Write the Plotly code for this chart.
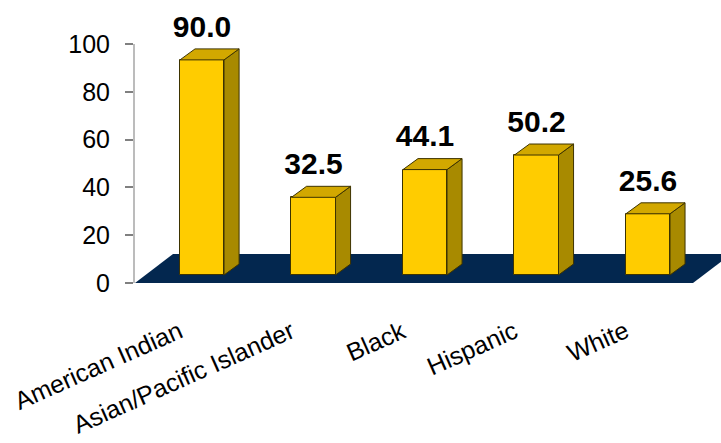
import plotly.graph_objects as go

categories = ["American Indian", "Asian/Pacific Islander", "Black", "Hispanic", "White"]
values = [90.0, 32.5, 44.1, 50.2, 25.6]
y_ticks = [0, 20, 40, 60, 80, 100]

# layout / styling constants
FRONT = "#FFCC00"
TOP = "#D2A800"
SIDE = "#A88A00"
EDGE = "#3d3300"
FLOOR = "#03274F"
FONT = "Liberation Sans, Arial, sans-serif"

pos = list(range(len(categories)))
bw = 0.395      # bar front width (x units)
dx = 0.135      # depth offset in x
dy = 4.6        # depth offset in y
base = 3.35     # bar base raised onto floor

fig = go.Figure()

# side faces and top faces computed from values
side_x, side_y, top_x, top_y = [], [], [], []
for p, v in zip(pos, values):
    r = p + bw / 2
    l = p - bw / 2
    t = base + v
    side_x += [r, r + dx, r + dx, r, r, None]
    side_y += [base, base + dy, t + dy, t, base, None]
    top_x += [l, l + dx, r + dx, r, l, None]
    top_y += [t, t + dy, t + dy, t, t, None]

fig.add_trace(go.Scatter(x=side_x, y=side_y, fill="toself", fillcolor=SIDE, mode="lines",
                         line=dict(color=EDGE, width=1), hoverinfo="skip", showlegend=False))
fig.add_trace(go.Scatter(x=top_x, y=top_y, fill="toself", fillcolor=TOP, mode="lines",
                         line=dict(color=EDGE, width=1), hoverinfo="skip", showlegend=False))

fig.add_trace(go.Bar(x=pos, y=values, base=base, width=bw,
                     marker=dict(color=FRONT, line=dict(color=EDGE, width=1)),
                     showlegend=False))

# value labels
fig.add_trace(go.Scatter(x=pos, y=[base + v + dy + 2 for v in values],
                         text=[f"{v:.1f}" for v in values], mode="text",
                         textposition="top center",
                         textfont=dict(family=FONT, size=30, color="black", weight="bold"),
                         cliponaxis=False, hoverinfo="skip", showlegend=False))

# floor
x0 = -0.601
fig.add_shape(type="path",
              path=f"M {x0},0 L 4.404,0 L 4.745,12.1 L {x0 + 0.341},12.1 Z",
              xref="x", yref="y", fillcolor=FLOOR, line=dict(width=0), layer="below")

# category labels (rotated, perspective-style)
for p, c in zip(pos, categories):
    fig.add_annotation(text=c, x=p - 0.11, y=-0.125,
                       xref="x", yref="paper", xanchor="right", yanchor="top",
                       textangle=-24, showarrow=False,
                       font=dict(family=FONT, size=25, color="black"))

fig.update_layout(
    width=721, height=443,
    margin=dict(l=135, r=0, t=44, b=160),
    plot_bgcolor="white", paper_bgcolor="white",
    bargap=0,
    xaxis=dict(range=[x0, 4.655], visible=False, fixedrange=True),
    yaxis=dict(range=[0, 100], tickvals=y_ticks, showgrid=False, zeroline=False,
               showline=True, linecolor="#bcbcbc", linewidth=2,
               ticks="outside", ticklen=8, tickwidth=2, tickcolor="#808080",
               ticklabelstandoff=10,
               tickfont=dict(family=FONT, size=25, color="black"), fixedrange=True),
)

fig.write_html("out.html", config={"displayModeBar": False},
               post_script="document.body.style.margin='0';document.body.style.overflow='hidden';")
